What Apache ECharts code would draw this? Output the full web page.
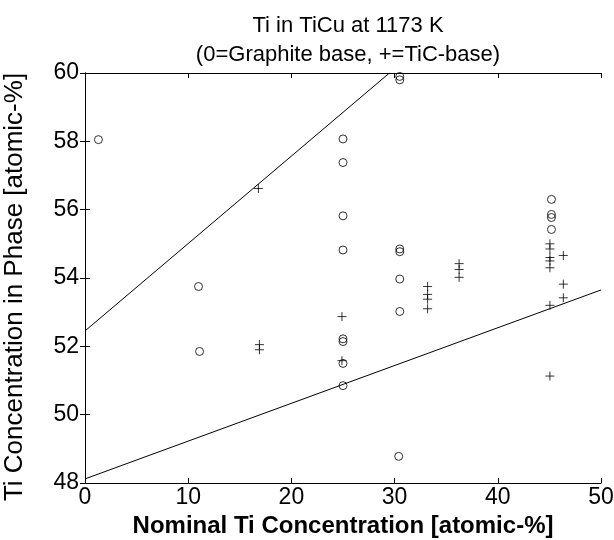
<!DOCTYPE html>
<html>
<head>
<meta charset="utf-8">
<script src="https://cdn.jsdelivr.net/npm/echarts@6/dist/echarts.min.js"></script>
<style>
  html, body { margin: 0; padding: 0; background: #fff; }
  #chart { width: 614px; height: 540px; }
</style>
</head>
<body>
<div id="chart"></div>
<script>
// graphite-based samples (open circles)
var graphiteBase = [
  [1.3, 58.05], [11.0, 53.75], [11.1, 51.85],
  [25.0, 58.07], [25.0, 57.38], [25.0, 55.82], [25.0, 54.82],
  [25.0, 52.22], [25.0, 52.14], [25.0, 51.5], [25.0, 50.85],
  [30.5, 59.9], [30.5, 59.8], [30.5, 54.85], [30.5, 54.77],
  [30.5, 53.97], [30.5, 53.02], [30.4, 48.78],
  [45.2, 56.3], [45.2, 55.86], [45.2, 55.77], [45.2, 55.42]
];
// TiC-based samples (plus signs)
var ticBase = [
  [16.8, 56.62], [16.9, 52.05], [16.9, 51.9],
  [24.9, 52.87], [24.9, 51.58],
  [33.2, 53.75], [33.2, 53.52], [33.2, 53.38], [33.2, 53.1],
  [36.25, 54.42], [36.25, 54.25], [36.25, 54.02],
  [45.05, 55.0], [45.05, 54.85], [45.05, 54.6], [45.05, 54.5], [45.05, 54.3],
  [45.05, 53.2], [45.05, 51.13],
  [46.35, 54.66], [46.35, 53.82], [46.35, 53.42]
];
// boundary lines
var upperLine = [[0, 52.45], [29.5, 60]];
var lowerLine = [[0, 48.12], [50, 53.65]];

var xTicks = [0, 10, 20, 30, 40, 50];
var yTicks = [48, 50, 52, 54, 56, 58, 60];

var font = 'Liberation Sans, Arial, Helvetica, sans-serif';
var black = '#000';

var chart = echarts.init(document.getElementById('chart'));

function boxAxis(extra) {
  return Object.assign({
    type: 'value',
    axisLine: { show: true, lineStyle: { color: black, width: 1 } },
    axisTick: { show: true, inside: true, length: 5, lineStyle: { color: black } },
    splitLine: { show: false },
    axisLabel: { show: false }
  }, extra);
}

chart.setOption({
  animation: false,
  backgroundColor: '#fff',
  title: {
    text: 'Ti in TiCu at 1173 K\n(0=Graphite base, +=TiC-base)',
    left: 343,
    top: 6,
    textAlign: 'center',
    textStyle: { fontFamily: font, fontSize: 22, fontWeight: 'normal', color: black, lineHeight: 29 }
  },
  grid: { left: 85, right: 13, top: 73, bottom: 57, containLabel: false, outerBoundsMode: 'none' },
  xAxis: [
    boxAxis({
      min: xTicks[0], max: xTicks[xTicks.length - 1], interval: 10,
      position: 'bottom',
      name: 'Nominal Ti Concentration [atomic-%]',
      nameLocation: 'middle',
      nameGap: 28,
      nameTextStyle: { fontFamily: font, fontSize: 24, fontWeight: 'bold', color: black },
      axisLabel: { show: true, fontFamily: font, fontSize: 23, color: black, margin: 3 }
    }),
    boxAxis({ min: 0, max: 50, interval: 10, position: 'top' })
  ],
  yAxis: [
    boxAxis({
      min: yTicks[0], max: yTicks[yTicks.length - 1], interval: 2,
      position: 'left',
      name: 'Ti Concentration in Phase [atomic-%]',
      nameLocation: 'middle',
      nameGap: 57,
      nameTextStyle: { fontFamily: font, fontSize: 26, color: black, padding: [0, 18, 0, 0] },
      axisLabel: { show: true, fontFamily: font, fontSize: 23, color: black, margin: 6 }
    }),
    boxAxis({ min: 48, max: 60, interval: 2, position: 'right' })
  ],
  series: [
    {
      type: 'line', data: upperLine, symbol: 'none',
      lineStyle: { color: black, width: 1 }, silent: true
    },
    {
      type: 'line', data: lowerLine, symbol: 'none',
      lineStyle: { color: black, width: 1 }, silent: true
    },
    {
      type: 'scatter', data: graphiteBase, symbol: 'circle', symbolSize: 8,
      itemStyle: { color: 'rgba(0,0,0,0)', borderColor: black, borderWidth: 1 }
    },
    {
      type: 'scatter', data: ticBase,
      symbol: 'path://M5,0L5,10M0,5L10,5', symbolSize: 9,
      itemStyle: { color: 'none', borderColor: black, borderWidth: 1 }
    }
  ]
});
</script>
</body>
</html>
